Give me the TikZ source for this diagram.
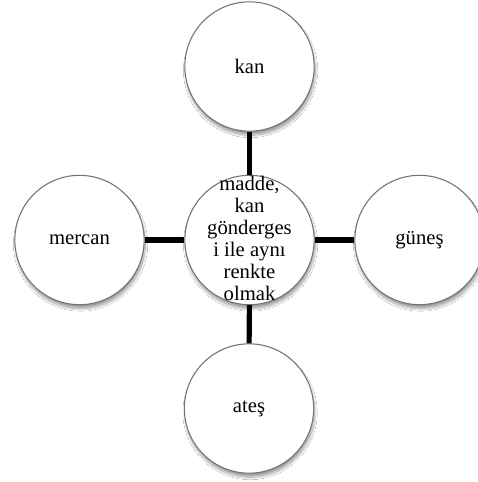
\documentclass[tikz,border=0pt]{standalone}
\usepackage{fontspec}
\setmainfont{Liberation Serif}
\usetikzlibrary{shadows.blur}
\begin{document}
\begin{tikzpicture}[x=0.75pt,y=-0.75pt,
  bubble/.style={circle, draw=black!55, line width=0.8pt, fill=white,
    minimum size=97pt, inner sep=0pt,
    font=\fontsize{15.5}{16.5}\selectfont, align=center,
    blur shadow={shadow xshift=0.8pt, shadow yshift=-3pt, shadow blur steps=16,
      shadow opacity=38, shadow blur radius=1.8pt}},
  caption/.style={font=\fontsize{15.5}{16.5}\selectfont, align=center, inner sep=0pt},
  link/.style={line width=3.8pt, black}]
  \clip (0,0) rectangle (478,482);
  \fill[white] (0,0) rectangle (478,482);
  % outer circles
  \node[bubble] (top) at (249.5,66.5) {kan};
  \node[bubble] (left) at (79.5,240) {mercan};
  \node[bubble] (right) at (419.5,240) {güneş};
  \node[bubble] (bottom) at (249,408.5) {ateş};
  % central circle; its text is set separately so it may spill over the rim
  \node[bubble] (mid) at (249.5,240) {};
  \node[caption] (midtext) at (249.5,238) {madde,\\kan\\gönderges\\i ile aynı\\renkte\\olmak};
  % spokes
  \draw[link] (top) -- (mid);
  \draw[link] (bottom) -- (mid);
  \draw[link] (left) -- (mid);
  \draw[link] (right) -- (mid);
\end{tikzpicture}
\end{document}
